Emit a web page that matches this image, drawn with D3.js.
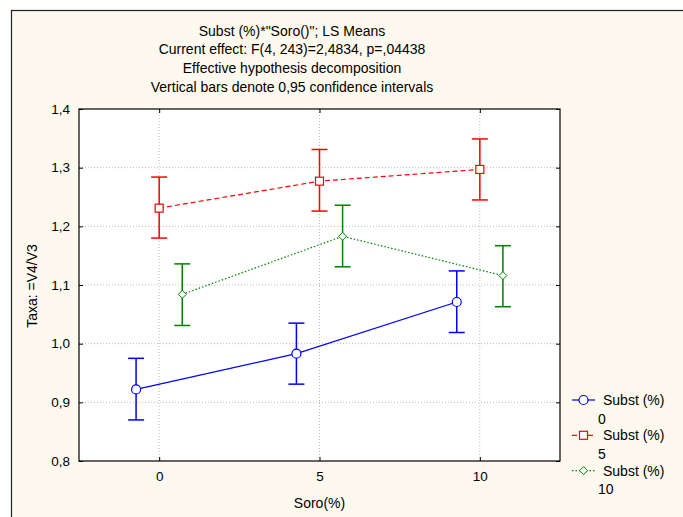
<!DOCTYPE html>
<html>
<head>
<meta charset="utf-8">
<script src="https://cdn.jsdelivr.net/npm/d3@7"></script>
<style>
  body { margin: 0; background: #fff; }
  svg { display: block; font-family: "Liberation Sans", Arial, sans-serif; }
</style>
</head>
<body>
<div class="graph"></div>
<script>
// data
let soro = [0, 5, 10];
let substLevels = ["0", "5", "10"];
let mean0 = [0.922, 0.983, 1.071];
let lower0 = [0.870, 0.931, 1.019];
let upper0 = [0.975, 1.035, 1.124];
let mean5 = [1.231, 1.277, 1.297];
let lower5 = [1.180, 1.226, 1.245];
let upper5 = [1.284, 1.331, 1.349];
let mean10 = [1.084, 1.183, 1.116];
let lower10 = [1.031, 1.131, 1.063];
let upper10 = [1.136, 1.236, 1.167];
let yTicks = [0.8, 0.9, 1.0, 1.1, 1.2, 1.3, 1.4];
let xTicks = [0, 5, 10];
let titleLines = [
  'Subst (%)*"Soro()"; LS Means',
  "Current effect: F(4, 243)=2,4834, p=,04438",
  "Effective hypothesis decomposition",
  "Vertical bars denote 0,95 confidence intervals"
];

let w = 683;
let h = 517;
let pLeft = 79, pRight = 560, pTop = 109, pBottom = 461;

let svg = d3.select(".graph").append("svg").attr("width", w).attr("height", h);

// cream panel with frame
svg.append("rect").attr("x", 11.5).attr("y", 10.5).attr("width", 700).attr("height", 600)
  .attr("fill", "#fef9ee").attr("stroke", "#222").attr("stroke-width", 1.2);

let x = d3.scaleLinear().domain([-2.5, 12.5]).range([pLeft, pRight]);
let y = d3.scaleLinear().domain([0.8, 1.4]).range([pBottom, pTop]);

svg.append("rect").attr("x", pLeft).attr("y", pTop).attr("width", pRight - pLeft).attr("height", pBottom - pTop)
  .attr("fill", "#fff");

// grid
svg.append("g").selectAll("line").data(yTicks.slice(1, -1)).enter().append("line")
  .attr("x1", pLeft).attr("x2", pRight).attr("y1", d => y(d)).attr("y2", d => y(d))
  .attr("stroke", "#bbb").attr("stroke-dasharray", "1,2");
svg.append("g").selectAll("line").data(xTicks).enter().append("line")
  .attr("y1", pTop).attr("y2", pBottom).attr("x1", d => x(d)).attr("x2", d => x(d))
  .attr("stroke", "#bbb").attr("stroke-dasharray", "1,2");

// axes (ticks pointing inward)
let fmt = d => d3.format(".1f")(d).replace(".", ",");
let yAxis = svg.append("g").attr("transform", `translate(${pLeft},0)`)
  .call(d3.axisLeft(y).tickValues(yTicks).tickSize(-4).tickPadding(9).tickFormat(fmt));
let yAxisR = svg.append("g").attr("transform", `translate(${pRight},0)`)
  .call(d3.axisRight(y).tickValues(yTicks).tickSize(-4).tickFormat(""));
let xAxis = svg.append("g").attr("transform", `translate(0,${pBottom})`)
  .call(d3.axisBottom(x).tickValues(xTicks).tickSize(-4).tickPadding(10).tickFormat(d3.format("d")));
let xAxisT = svg.append("g").attr("transform", `translate(0,${pTop})`)
  .call(d3.axisTop(x).tickValues(xTicks).tickSize(-4).tickFormat(""));
[yAxis, yAxisR, xAxis, xAxisT].forEach(function (g) {
  g.select(".domain").remove();
  g.selectAll("text").attr("font-size", 13.5).attr("fill", "#000")
    .attr("font-family", '"Liberation Sans", Arial, sans-serif');
  g.selectAll("line").attr("stroke", "#000");
});

svg.append("rect").attr("x", pLeft).attr("y", pTop).attr("width", pRight - pLeft).attr("height", pBottom - pTop)
  .attr("fill", "none").attr("stroke", "#000").attr("stroke-width", 1.2);

// titles
svg.append("g").selectAll("text").data(titleLines).enter().append("text")
  .attr("x", 292).attr("y", (d, i) => 35.5 + i * 18.9)
  .attr("text-anchor", "middle").attr("font-size", 14).text(d => d);

svg.append("text").attr("x", x(5)).attr("y", 508).attr("text-anchor", "middle")
  .attr("font-size", 14).text("Soro(%)");
svg.append("text").attr("transform", "translate(36.5,286) rotate(-90)").attr("text-anchor", "middle")
  .attr("font-size", 14).text("Taxa: =V4/V3");

// series
let series = [
  { name: substLevels[0], mean: mean0, lo: lower0, hi: upper0, color: "#0000ff", dash: null, shift: -0.72, shape: "circle" },
  { name: substLevels[1], mean: mean5, lo: lower5, hi: upper5, color: "#ff0000", dash: "5,3", shift: 0, shape: "square" },
  { name: substLevels[2], mean: mean10, lo: lower10, hi: upper10, color: "#008000", dash: "1.5,2", shift: 0.72, shape: "diamond" }
];

function drawMarker(g, shape, color) {
  if (shape === "circle") {
    g.append("circle").attr("r", 4.5).attr("fill", "#fff").attr("stroke", color).attr("stroke-width", 1.2);
  } else if (shape === "square") {
    g.append("rect").attr("x", -4).attr("y", -4).attr("width", 8).attr("height", 8)
      .attr("fill", "#fff").attr("stroke", color).attr("stroke-width", 1.2);
  } else {
    g.append("path").attr("d", "M0,-4L4,0L0,4L-4,0Z")
      .attr("fill", "#fff").attr("stroke", color).attr("stroke-width", 1);
  }
}

series.forEach(function (s) {
  let g = svg.append("g");
  let px = d => x(d + s.shift);
  let line = d3.line().x(d => px(d[0])).y(d => y(d[1]));
  g.append("path").datum(soro.map((d, i) => [d, s.mean[i]])).attr("d", line)
    .attr("fill", "none").attr("stroke", s.color).attr("stroke-width", 1.2)
    .attr("stroke-dasharray", s.dash);
  soro.forEach(function (d, i) {
    let cx = px(d);
    g.append("line").attr("x1", cx).attr("x2", cx).attr("y1", y(s.lo[i])).attr("y2", y(s.hi[i]))
      .attr("stroke", s.color).attr("stroke-width", 1.5);
    [s.lo[i], s.hi[i]].forEach(function (v) {
      g.append("line").attr("x1", cx - 8).attr("x2", cx + 8).attr("y1", y(v)).attr("y2", y(v))
        .attr("stroke", s.color).attr("stroke-width", 1.5);
    });
    let m = g.append("g").attr("transform", `translate(${cx},${y(s.mean[i])})`);
    drawMarker(m, s.shape, s.color);
  });
});

// legend
series.forEach(function (s, i) {
  let ly = 400 + i * 35.3;
  let g = svg.append("g").attr("transform", `translate(572,${ly})`);
  g.append("line").attr("x1", 0).attr("x2", 23).attr("y1", 0).attr("y2", 0)
    .attr("stroke", s.color).attr("stroke-width", 1.2).attr("stroke-dasharray", s.dash);
  let m = g.append("g").attr("transform", "translate(11.5,0)");
  drawMarker(m, s.shape, s.color);
  g.append("text").attr("x", 31).attr("y", 5).attr("font-size", 14).text("Subst (%)");
  g.append("text").attr("x", 26).attr("y", 23.5).attr("font-size", 14).text(s.name);
});
</script>
</body>
</html>
